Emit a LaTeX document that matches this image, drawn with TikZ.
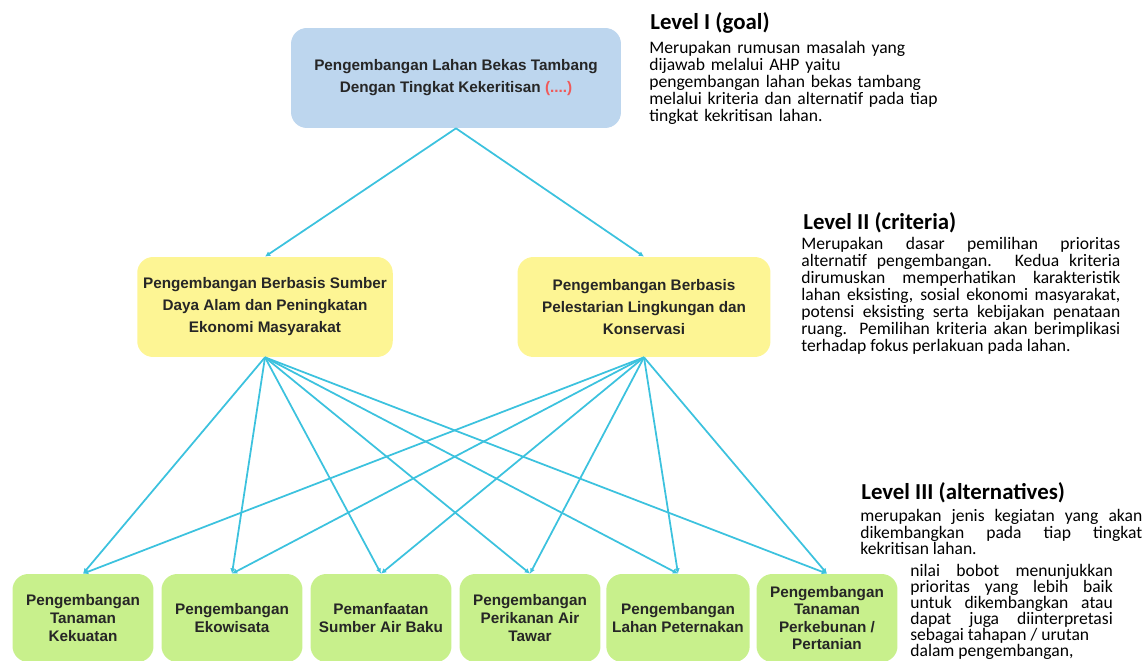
\documentclass[tikz,border=0pt]{standalone}
\usepackage{fontspec}
\setmainfont{Carlito}
\newfontfamily\boxfont{Liberation Sans}
\usepackage{tikz}
\usetikzlibrary{arrows.meta, positioning}

\definecolor{goalblue}{HTML}{BDD6EE}
\definecolor{crityellow}{HTML}{FDF594}
\definecolor{altgreen}{HTML}{C8F08C}
\definecolor{linkcyan}{HTML}{3CC2DE}
\definecolor{dotsred}{HTML}{F05A5A}
\definecolor{boxtext}{HTML}{262626}

\begin{document}
\begin{tikzpicture}[x=0.02cm, y=-0.02cm,
  box/.style={rounded corners=9pt, align=center, text=boxtext,
    font=\boxfont\bfseries\fontsize{8.7}{12.5}\selectfont},
  altbox/.style={box, fill=altgreen, minimum width=2.82cm, minimum height=1.76cm,
    font=\boxfont\bfseries\fontsize{8.7}{10}\selectfont},
  link/.style={linkcyan, line width=1pt, -{Latex[length=3pt,width=3pt]}},
  heading/.style={anchor=base west, inner sep=0pt, font=\bfseries\fontsize{13}{15}\selectfont},
  desc/.style={anchor=north west, inner sep=0pt, align=justify,
    font=\fontsize{10}{9.4}\selectfont}]
\useasboundingbox (0,0) rectangle (1146,661);

% Level I: goal
\node[box, fill=goalblue, minimum width=6.6cm, minimum height=2cm] (goal) at (456,78)
  {Pengembangan Lahan Bekas Tambang\\Dengan Tingkat Kekeritisan \textcolor{dotsred}{(....)}};

% Level II: criteria
\node[box, fill=crityellow, minimum width=5.04cm, minimum height=2cm] (critA) at (265,307)
  {Pengembangan Berbasis Sumber\\Daya Alam dan Peningkatan\\Ekonomi Masyarakat};
\node[box, fill=crityellow, minimum width=5.06cm, minimum height=2cm] (critB) at (644,307)
  {Pengembangan Berbasis\\Pelestarian Lingkungan dan\\Konservasi};

% Level III: alternatives
\node[altbox] (alt1) at (83,618) {Pengembangan\\Tanaman\\Kekuatan};
\node[altbox] (alt2) at (232,618) {Pengembangan\\Ekowisata};
\node[altbox] (alt3) at (381,618) {Pemanfaatan\\Sumber Air Baku};
\node[altbox] (alt4) at (530,618) {Pengembangan\\Perikanan Air\\Tawar};
\node[altbox] (alt5) at (678,618) {Pengembangan\\Lahan Peternakan};
\node[altbox] (alt6) at (827,618) {Pengembangan\\Tanaman\\Perkebunan /\\Pertanian};

% goal to criteria
\draw[link] (goal.south) -- (critA.north);
\draw[link] (goal.south) -- (critB.north);

% criteria to alternatives
\draw[link] (critA.south) -- (alt1.north);
\draw[link] (critA.south) -- (alt2.north);
\draw[link] (critA.south) -- (alt3.north);
\draw[link] (critA.south) -- (alt4.north);
\draw[link] (critA.south) -- (alt5.north);
\draw[link] (critA.south) -- (alt6.north);
\draw[link] (critB.south) -- (alt1.north);
\draw[link] (critB.south) -- (alt2.north);
\draw[link] (critB.south) -- (alt3.north);
\draw[link] (critB.south) -- (alt4.north);
\draw[link] (critB.south) -- (alt5.north);
\draw[link] (critB.south) -- (alt6.north);

% Level notes
\node[heading] (lvlI) at (650,30) {Level I (goal)};
\node[desc, align=left, text width=6cm, font=\fontsize{10}{9.6}\selectfont] (descI) at (649,41)
  {Merupakan rumusan masalah yang\\dijawab melalui AHP yaitu\\pengembangan lahan bekas tambang\\melalui kriteria dan alternatif pada tiap\\tingkat kekritisan lahan.};

\node[heading] (lvlII) at (803,230) {Level II (criteria)};
\node[desc, text width=6.38cm, font=\fontsize{10}{9.7}\selectfont] (descII) at (801,237)
  {Merupakan dasar pemilihan prioritas\linebreak alternatif pengembangan. Kedua kriteria\linebreak dirumuskan memperhatikan karakteristik\linebreak lahan eksisting, sosial ekonomi masyarakat,\linebreak potensi eksisting serta kebijakan penataan\linebreak ruang. Pemilihan kriteria akan berimplikasi\linebreak terhadap fokus perlakuan pada lahan.};

\node[heading] (lvlIII) at (861,500) {Level III (alternatives)};
\node[desc, text width=5.64cm] (descIII) at (860,509)
  {merupakan jenis kegiatan yang akan\linebreak dikembangkan pada tiap tingkat\linebreak kekritisan lahan.};
\node[desc, text width=4.05cm, font=\fontsize{10}{9.1}\selectfont] (noteIII) at (910,564)
  {nilai bobot menunjukkan\linebreak prioritas yang lebih baik\linebreak untuk dikembangkan atau\linebreak dapat juga diinterpretasi\linebreak sebagai tahapan / urutan\\dalam pengembangan,};
\end{tikzpicture}
\end{document}
